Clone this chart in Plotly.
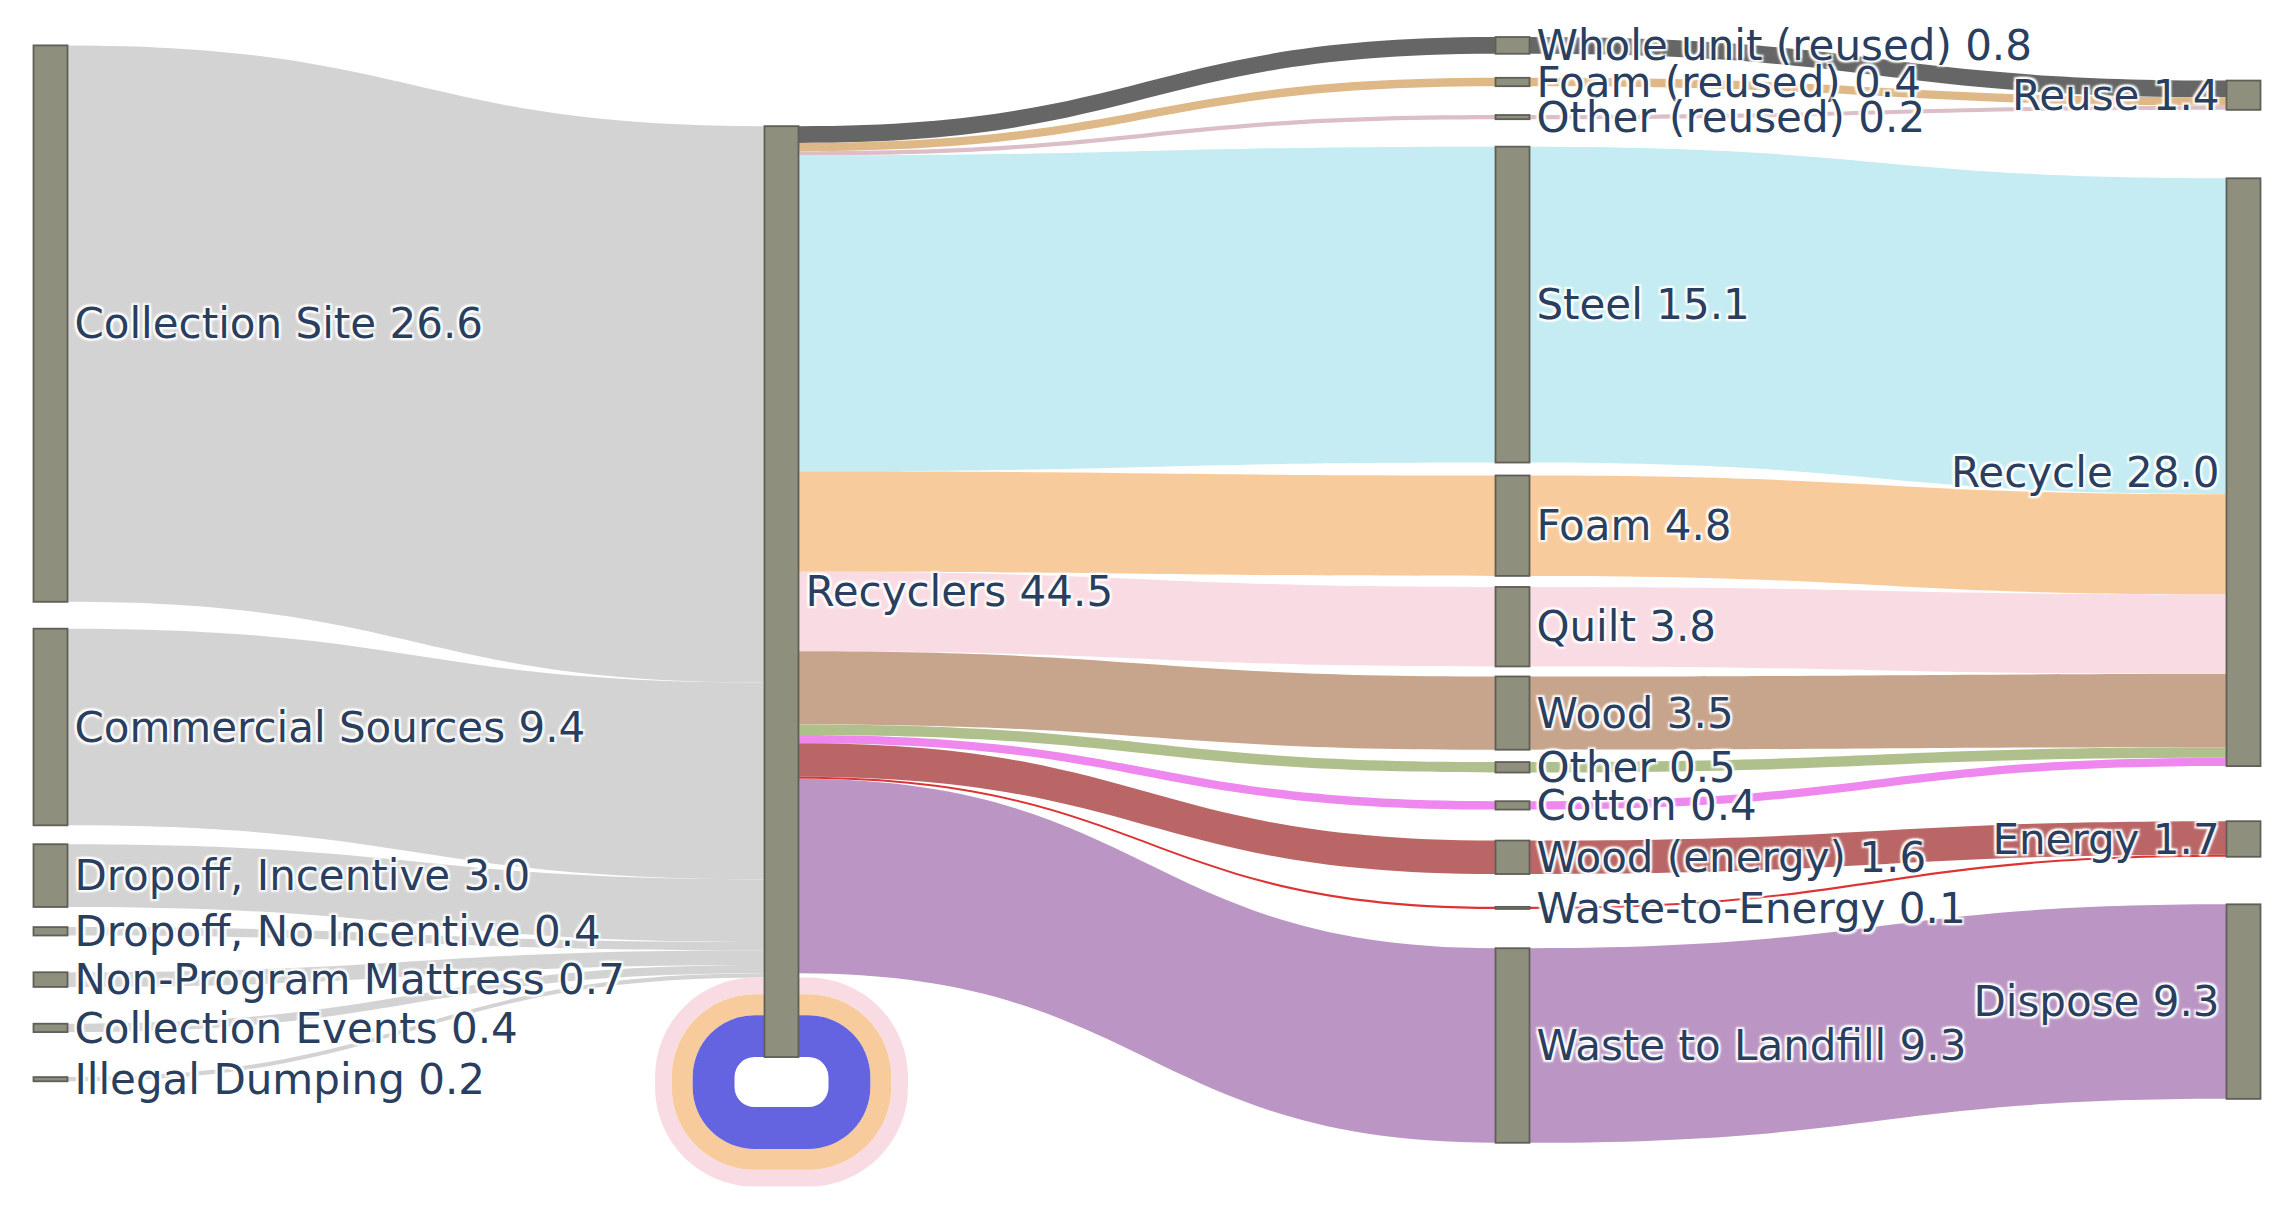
import plotly.graph_objects as go

# The figure is laid out at half size and shown with a 2x page zoom,
# so that it fills the 2296 x 1206 window like a scale-2 export.
S = 2
W, H = 2296 // S, 1206 // S
MB = 42  # bottom margin (CSS px), leaves room for the self-loop
HD = H - MB

node_labels = [
    "Collection Site 26.6", "Commercial Sources 9.4", "Dropoff, Incentive 3.0",
    "Dropoff, No Incentive 0.4", "Non-Program Mattress 0.7", "Collection Events 0.4",
    "Illegal Dumping 0.2",
    "Recyclers 44.5",
    "Whole unit (reused) 0.8", "Foam (reused) 0.4", "Other (reused) 0.2",
    "Steel 15.1", "Foam 4.8", "Quilt 3.8", "Wood 3.5", "Other 0.5", "Cotton 0.4",
    "Wood (energy) 1.6", "Waste-to-Energy 0.1", "Waste to Landfill 9.3",
    "Reuse 1.4", "Recycle 28.0", "Energy 1.7", "Dispose 9.3",
]

# sources -> Recyclers
src_ids = [0, 1, 2, 3, 4, 5, 6]
src_vals = [26.6, 9.4, 3.0, 0.4, 0.7, 0.4, 0.2]

# Recyclers -> materials -> destinations
mat_ids = [8, 9, 10, 11, 12, 13, 14, 15, 16, 17, 18, 19]
mat_vals = [0.8, 0.4, 0.2, 15.1, 4.8, 3.8, 3.5, 0.5, 0.4, 1.6, 0.1, 9.3]
mat_colors = ["#666666", "#deb887", "#dcbec8", "#c4ecf2", "#f7cb9c", "#f9dce3",
              "#c7a48c", "#b0c08c", "#ee88ee", "#bb6666", "#dd3333", "#bb96c4"]
mat_dest = [20, 20, 20, 21, 21, 21, 21, 21, 21, 22, 22, 23]

# Recyclers -> Recyclers (loops)
loop_vals = [0.8, 1.0, 2.0]
loop_colors = ["#f9dce3", "#f7cb9c", "#6464e1"]

# ---- layout of the node columns (node centres, in screen pixels) ----
col_x = [50.5, 781.5, 1512.5, 2243.5]
node_col = [0] * 7 + [1] + [2] * 12 + [3] * 4
node_cy = [323.6, 727.0, 875.6, 931.3, 979.6, 1027.9, 1079.2,
           591.6,
           45.4, 82.0, 117.1, 304.6, 525.7, 626.7, 713.1, 767.3, 805.4, 857.3, 907.9, 1045.5,
           95.2, 472.2, 839.0, 1001.6]
node_x = [(col_x[c] / S) / W for c in node_col]
node_y = [(cy / S) / HD for cy in node_cy]

source, target, value, color = [], [], [], []
for i, v in zip(src_ids, src_vals):
    source.append(i); target.append(7); value.append(v); color.append("#d3d3d3")
for i, v, c in zip(mat_ids, mat_vals, mat_colors):
    source.append(7); target.append(i); value.append(v); color.append(c)
for i, v, c, d in zip(mat_ids, mat_vals, mat_colors, mat_dest):
    source.append(i); target.append(d); value.append(v); color.append(c)
for v, c in zip(loop_vals, loop_colors):
    source.append(7); target.append(7); value.append(v); color.append(c)

fig = go.Figure(go.Sankey(
    arrangement="snap",
    node=dict(
        label=node_labels,
        x=node_x, y=node_y,
        color="#8f8f7e",
        line=dict(color="#5f5f58", width=0.9),
        pad=2.78,
        thickness=17,
    ),
    link=dict(source=source, target=target, value=value, color=color,
              line=dict(color="rgba(0,0,0,0)", width=0)),
    textfont=dict(family="Verdana, DejaVu Sans, sans-serif", size=21, color="#2a3f5f"),
))
fig.update_layout(
    width=W, height=H,
    margin=dict(l=0, r=0, t=0, b=MB),
    paper_bgcolor="white",
)
fig.write_html(
    "out.html",
    config={"displayModeBar": False},
    post_script="document.body.style.margin='0';document.body.style.zoom='%d';" % S,
)
